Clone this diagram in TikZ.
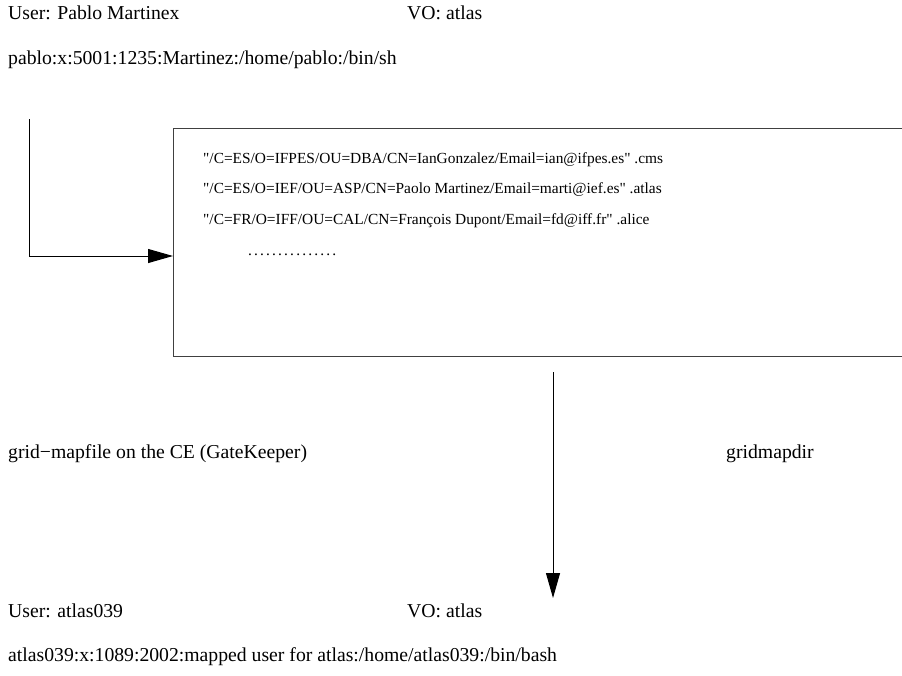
\documentclass[tikz,border=0pt]{standalone}
\usepackage{fontspec}
\setmainfont{Liberation Serif}
\usetikzlibrary{arrows.meta}
\begin{document}
\begin{tikzpicture}[x=1pt,y=-1pt,
  lbl/.style={anchor=base west,inner sep=0pt,font=\fontsize{19.7}{22}\selectfont},
  dn/.style={anchor=base west,inner sep=0pt,font=\fontsize{15.4}{18}\selectfont},
  conn/.style={line width=1pt,-{Triangle[length=25pt,width=14pt]}}]
\useasboundingbox (0,0) rectangle (902,675);
\node[lbl] (u1) at (8,19) {User: Pablo Martinex};
\node[lbl] (vo1) at (407,19) {VO: atlas};
\node[lbl] (pw1) at (8,64) {pablo:x:5001:1235:Martinez:/home/pablo:/bin/sh};
\node[draw=black!75,line width=1pt,minimum width=730pt,minimum height=228pt,anchor=north west,inner sep=0pt] (box) at (173,128) {};
\node[dn] (d1) at (203,163) {\textquotedbl/C=ES/O=IFPES/OU=DBA/CN=IanGonzalez/Email=ian@ifpes.es\textquotedbl{} .cms};
\node[dn] (d2) at (203,193) {\textquotedbl/C=ES/O=IEF/OU=ASP/CN=Paolo Martinez/Email=marti@ief.es\textquotedbl{} .atlas};
\node[dn] (d3) at (203,224) {\textquotedbl/C=FR/O=IFF/OU=CAL/CN=François Dupont/Email=fd@iff.fr\textquotedbl{} .alice};
\node[dn] (dots) at (248,255) {\addfontfeature{LetterSpace=14}...............};
\node[lbl] (gm) at (8,458) {grid−mapfile on the CE (GateKeeper)};
\node[lbl] (gd) at (726,458) {gridmapdir};
\node[lbl] (u2) at (8,617) {User: atlas039};
\node[lbl] (vo2) at (407,617) {VO: atlas};
\node[lbl] (pw2) at (8,661) {atlas039:x:1089:2002:mapped user for atlas:/home/atlas039:/bin/bash};
\coordinate (s1) at (29,119);
\coordinate (c1) at (29,256);
\coordinate (s2) at (553,372);
\coordinate (e2) at (553,598);
\draw[conn] (s1) -- (c1) -- (box.west |- c1);
\draw[conn] (s2) -- (e2);
\end{tikzpicture}
\end{document}
